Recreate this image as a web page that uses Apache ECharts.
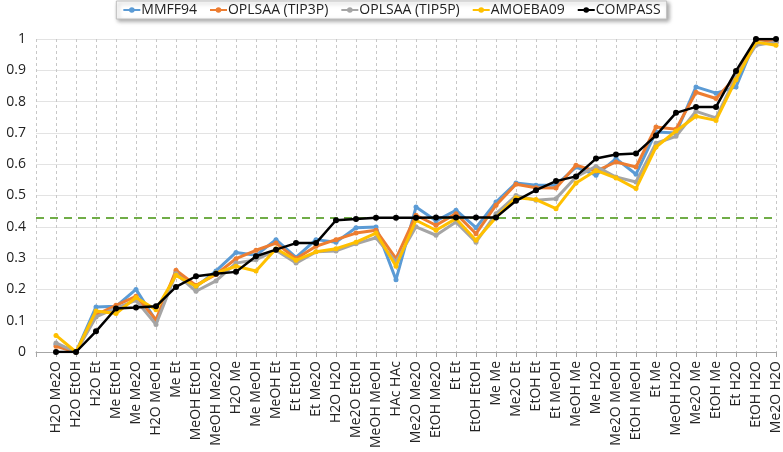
<!DOCTYPE html>
<html>
<head>
<meta charset="utf-8">
<script src="https://cdn.jsdelivr.net/npm/echarts@6/dist/echarts.min.js"></script>
<style>
  html, body { margin: 0; padding: 0; background: #fff; }
  #main { width: 783px; height: 452px; }
</style>
</head>
<body>
<div id="main"></div>
<script>
// categories (pairs)
const pairs = ['H2O Me2O', 'H2O EtOH', 'H2O Et', 'Me EtOH', 'Me Me2O', 'H2O MeOH', 'Me Et',
  'MeOH EtOH', 'MeOH Me2O', 'H2O Me', 'Me MeOH', 'MeOH Et', 'Et EtOH', 'Et Me2O', 'H2O H2O',
  'Me2O EtOH', 'MeOH MeOH', 'HAc HAc', 'Me2O Me2O', 'EtOH Me2O', 'Et Et', 'EtOH EtOH', 'Me Me',
  'Me2O Et', 'EtOH Et', 'Et MeOH', 'MeOH Me', 'Me H2O', 'Me2O MeOH', 'EtOH MeOH', 'Et Me',
  'MeOH H2O', 'Me2O Me', 'EtOH Me', 'Et H2O', 'EtOH H2O', 'Me2O H2O'];

const mmff94 = [0.025, 0, 0.144, 0.146, 0.2, 0.1, 0.255, 0.208, 0.259, 0.318, 0.309, 0.359, 0.302,
  0.359, 0.351, 0.397, 0.399, 0.231, 0.463, 0.419, 0.453, 0.397, 0.479, 0.54, 0.533, 0.533, 0.591,
  0.565, 0.618, 0.568, 0.703, 0.7, 0.847, 0.827, 0.847, 1.0, 0.99];
const oplsTip3p = [0.018, 0, 0.119, 0.149, 0.178, 0.103, 0.261, 0.213, 0.248, 0.298, 0.325, 0.348,
  0.298, 0.338, 0.359, 0.38, 0.389, 0.298, 0.437, 0.405, 0.442, 0.378, 0.469, 0.536, 0.525, 0.524,
  0.597, 0.578, 0.607, 0.591, 0.719, 0.712, 0.83, 0.81, 0.879, 1.0, 0.99];
const oplsTip5p = [0.029, 0, 0.112, 0.14, 0.165, 0.088, 0.25, 0.194, 0.227, 0.284, 0.295, 0.325,
  0.284, 0.32, 0.323, 0.346, 0.365, 0.288, 0.4, 0.373, 0.415, 0.351, 0.442, 0.5, 0.485, 0.49,
  0.559, 0.593, 0.559, 0.543, 0.667, 0.689, 0.769, 0.748, 0.88, 0.98, 0.99];
const amoeba09 = [0.053, 0, 0.131, 0.123, 0.174, 0.135, 0.245, 0.21, 0.252, 0.274, 0.259, 0.33,
  0.293, 0.32, 0.33, 0.351, 0.38, 0.274, 0.421, 0.389, 0.426, 0.357, 0.43, 0.493, 0.487, 0.458,
  0.54, 0.58, 0.556, 0.522, 0.655, 0.706, 0.753, 0.74, 0.87, 0.99, 0.98];
const compass = [0, 0, 0.066, 0.139, 0.142, 0.146, 0.208, 0.242, 0.25, 0.256, 0.306, 0.327, 0.348,
  0.348, 0.421, 0.425, 0.429, 0.429, 0.429, 0.43, 0.43, 0.43, 0.43, 0.483, 0.517, 0.546, 0.561,
  0.618, 0.631, 0.634, 0.692, 0.764, 0.783, 0.783, 0.898, 1.0, 1.0];
const threshold = 0.43;

const names = ['MMFF94', 'OPLSAA (TIP3P)', 'OPLSAA (TIP5P)', 'AMOEBA09', 'COMPASS'];
const colors = ['#5B9BD5', '#ED7D31', '#A5A5A5', '#FFC000', '#000000'];
const values = [mmff94, oplsTip3p, oplsTip5p, amoeba09, compass];

// blank slot in front so the axis starts one step left of the first point
const cats = [''].concat(pairs);

const chart = echarts.init(document.getElementById('main'));

const series = values.map((v, i) => ({
  name: names[i],
  type: 'line',
  data: [null].concat(v),
  symbol: 'circle',
  symbolSize: i === 4 ? 6 : 5,
  lineStyle: { width: i === 4 ? 2.5 : 3, color: colors[i] },
  itemStyle: { color: colors[i] },
  z: 2 + i,
  animation: false
}));
series[4].markLine = {
  silent: true,
  symbol: 'none',
  label: { show: false },
  lineStyle: { color: '#70AD47', type: [8, 6], width: 2 },
  data: [{ yAxis: threshold }]
};

chart.setOption({
  textStyle: { fontFamily: 'Open Sans' },
  legend: {
    top: 1,
    left: 'center',
    itemWidth: 17,
    itemHeight: 7,
    itemGap: 12,
    padding: [2, 6],
    backgroundColor: '#fff',
    borderColor: '#BFBFBF',
    borderWidth: 1,
    shadowColor: 'rgba(0,0,0,0.35)',
    shadowBlur: 4,
    shadowOffsetX: 2,
    shadowOffsetY: 2,
    textStyle: { fontSize: 14, color: '#222', padding: [0, 0, 0, -4] },
    data: names
  },
  grid: { left: 36, right: 6, top: 39, bottom: 100, containLabel: false },
  xAxis: {
    type: 'category',
    data: cats,
    boundaryGap: false,
    axisLine: { lineStyle: { color: '#A6A6A6' } },
    axisTick: { show: true, length: 5, interval: 0, lineStyle: { color: '#A6A6A6' } },
    axisLabel: { interval: 0, rotate: 90, fontSize: 14, color: '#222', margin: 9 },
    splitLine: { show: true, interval: 0, lineStyle: { color: '#C8C8C8', type: [3, 3] } }
  },
  yAxis: {
    type: 'value',
    min: 0,
    max: 1,
    interval: 0.1,
    axisLine: { show: false },
    axisTick: { show: false },
    axisLabel: { fontSize: 14, color: '#222', margin: 10 },
    splitLine: { lineStyle: { color: '#E3E3E3' } }
  },
  series: series
});
</script>
</body>
</html>
